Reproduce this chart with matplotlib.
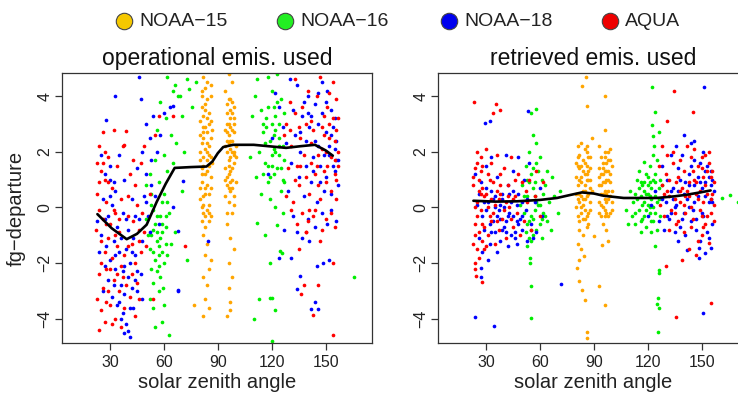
import numpy as np
import matplotlib
matplotlib.use('Agg')
import matplotlib.pyplot as plt

plt.rcParams['font.family'] = ['Liberation Sans', 'DejaVu Sans']

# ---- data: (solar zenith angle, fg-departure) ----
satellites = ['NOAA\u221215', 'NOAA\u221216', 'NOAA\u221218', 'AQUA']
point_colors = ['#FFA500', '#00EE00', '#0000FF', '#FF0000']
legend_colors = ['#F5C800', '#22EE22', '#0000EE', '#EE0000']

# operational emissivity panel
n15_oper = [(82,4.7),(84,4.5),(81,4.2),(86,4.0),(83,3.7),(85,3.4),(80,3.1),(82,2.9),(84,2.7),(86,2.5),
            (81,2.3),(83,2.1),(85,1.9),(80,1.7),(82,1.5),(84,1.3),(86,1.1),(81,0.9),(83,0.7),(85,0.5),
            (80,0.3),(82,0.1),(84,-0.1),(86,-0.3),(81,-0.5),(83,-0.7),(85,-0.2),(82,-1.0),(84,-1.3),(83,-1.7),
            (85,-2.2),(82,-2.5),(84,-2.8),(83,-3.3),(85,-3.6),(82,-3.9),(86,-1.9),(81,3.6),(85,2.2),(83,1.2),
            (87,1.6),(82,2.5),(84,0.8),(80,2.0),(86,3.1),(83,4.3),(81,1.4),(85,0.1),(84,3.9),(82,0.4),
            (83,-0.3),(84,1.7),(82,3.3),(86,0.7),(77,-3.5),
            (81,4.0),(83,3.5),(85,3.0),(82,2.7),(84,2.3),(86,1.8),(81,1.2),(83,0.5),(85,-0.5),(82,-0.2),
            (84,2.0),(80,2.6),(86,4.4),(83,2.9),(85,1.5),(81,0.0),(84,3.2),(82,1.8),(87,2.8),(80,0.7),
            (96,4.8),(98,4.5),(94,4.2),(97,3.9),(99,3.6),(95,3.4),(97,3.2),(99,3.0),(94,2.8),(96,2.6),
            (98,2.4),(100,2.2),(95,2.0),(97,1.8),(99,1.6),(94,1.4),(96,1.2),(98,1.0),(95,0.8),(97,0.6),
            (99,0.4),(96,0.2),(98,-0.2),(95,-0.6),(97,-1.1),(99,-1.5),(96,-2.0),(98,-2.5),(96,-2.9),(97,-3.4),
            (95,-3.9),(97,-3.7),(98,3.4),(96,3.0),(95,2.4),(99,2.7),(97,2.1),(98,1.4),(96,1.7),(94,1.0),
            (97,2.9),(99,1.9),(95,3.7),(100,0.9),(98,3.8),(96,0.7),
            (95,3.0),(97,2.4),(99,2.0),(94,2.2),(96,1.5),(98,2.8),(95,1.1),(97,3.5),(99,3.2),(96,3.9),
            (98,0.7),(94,0.4),(97,1.3),(100,1.8),(95,2.7),(96,2.3),(98,2.0),(99,0.1),(97,0.9),(95,-0.2)]
n16_oper = [(65,4.2),(69,4.0),(72.6,4.6),(78,4.5),(75.4,3.6),(69.8,3.3),(66,4.4),(68,4.0),(74,4.26),(62,4.7),
            (58,3.8),(61,3.2),(56,2.8),(64,2.6),(67,2.3),(71,2.0),(60,1.9),(55,1.7),(52,1.2),(57,0.9),
            (62,1.3),(53,0.5),(59,0.2),(63,-0.2),(50,-0.4),(54,-0.8),(56,-0.3),(58,-1.1),(61,-0.7),(64,-1.3),
            (52,-1.5),(55,-1.9),(57,-1.4),(60,-2.0),(62,-1.7),(53,-2.2),(58,-2.5),(51,-1.0),(56,-1.2),(59,-1.6),
            (54,-2.7),(54,-3.6),(58.7,-4.1),(63,-4.6),(59.5,-2.9),(52,-3.3),(57,-3.0),(55,-4.3),(60,-3.5),(53,0.1),
            (61,-0.3),(57,-2.1),(50,0.8),(66,-0.9),(65,1.6),(54,-0.1),(70,0.6),(73,-1.9),(56,-0.9),(59,-0.6),
            (53,-1.0),(55,-0.6),(57,-1.7),(59,-0.9),(61,-1.3),(56,-2.3),(58,-0.3),(54,-1.6),(60,0.5),(62,0.2),
            (110.5,4.0),(112,4.6),(118,4.7),(123,4.8),(120,4.2),(125,3.9),(114,3.5),(117,3.2),(121,3.6),(124,3.0),
            (127,3.4),(115,2.7),(119,2.4),(122,2.8),(126,2.2),(113,2.0),(116,1.6),(120,1.9),(123,1.4),(127,1.7),
            (111,1.1),(118,0.9),(121,1.2),(125,0.6),(119,0.3),(122,0.0),(126,-0.2),(114,0.5),(112,-0.56),(116,-1.0),
            (119,-2.0),(120,-3.25),(121.7,-3.7),(120,-4.8),(123,-0.63),(125.5,-1.65),(166,-2.5),(117,2.9),(124,2.5),(121,2.1),
            (126,1.0),(120,3.0),(118,1.5),(124,1.9),(122,3.3),(115,1.2),(127,0.9),(109,3.3),(108,1.8),(113,-3.3),
            (110,-4.0),(124.4,-1.58),(119,-3.26),
            (115,3.0),(118,3.6),(121,2.6),(124,2.2),(116,2.3),(120,1.5),(123,3.8),(119,1.1),(125,1.4),(122,2.0)]
n18_oper = [(46,4.7),(33,4.0),(47,3.9),(28,3.15),(25,1.9),(27,1.2),(30,1.5),(33,0.6),(35,1.9),(38,1.0),
            (42,0.3),(45,1.4),(48,2.0),(50,1.2),(52,2.5),(54,3.3),(50,3.0),(56,2.0),(53,0.8),(26,0.3),
            (29,-0.3),(31,0.1),(34,-0.7),(37,-0.2),(40,-0.8),(43,-1.1),(46,-0.4),(49,0.4),(51,-0.3),(23,-0.5),
            (25,-1.0),(28,-1.4),(30,-1.9),(32,-1.2),(35,-1.6),(37,-2.3),(39,-1.5),(41,-2.0),(44,-1.7),(47,-2.4),
            (24,-1.6),(27,-2.1),(29,-2.6),(33,-2.2),(36,-2.8),(38,-3.1),(40,-2.5),(42,-2.9),(45,-2.3),(48,-3.3),
            (31,-3.2),(34,-3.5),(37,-3.8),(39,-4.2),(41,-4.64),(40,-4.44),(43,-3.6),(36,-4.0),(38,-4.5),(26,-3.0),
            (44,-0.3),(32,0.9),(48,-1.2),(52,-0.9),(55,0.4),(58,2.6),(60,3.4),(57,-0.6),(68,-2.96),(63.3,3.6),
            (65.2,3.66),(70.7,0.94),(67.6,-0.86),(84.6,-1.22),(65.2,0.02),(68,-3.0),
            (27,-0.4),(30,0.4),(33,-1.7),(36,-1.1),(39,-0.4),(42,-1.6),(45,-3.0),(35,-3.4),(32,-2.8),(41,-3.6),
            (44,-2.6),(38,-2.1),(30,1.0),(50,0.2),(53,1.7),
            (130,4.6),(134,4.4),(140,4.0),(144,3.7),(148,4.5),(151,4.2),(153,3.5),(137,3.3),(141,2.9),(146,3.0),
            (150,2.7),(154,2.9),(156,2.4),(133,2.6),(136,2.0),(139,2.4),(143,1.8),(147,1.5),(152,1.9),(155,1.3),
            (157,0.8),(131,1.6),(128,2.3),(126,2.9),(124,3.6),(122,4.1),(135,1.1),(138,0.4),(142,0.9),(145,0.2),
            (149,0.6),(153,-0.1),(156,-0.5),(132,-0.3),(129,0.6),(127,-0.8),(134,-0.9),(140,-0.4),(144,-0.7),(148,-0.2),
            (151,-0.6),(137,-1.1),(141,-1.2),(131,-1.8),(148.5,-2.0),(152,-1.88),(145,-2.1),(135.5,-2.46),(134,-2.93),(144,-3.38),
            (142,-3.64),(145.7,-3.64),(124,-1.8),(154,1.5),(150,1.1),(146,2.2),(142,3.3),(138,3.8),(155,2.1),(153,0.5),
            (157,1.7),(120,2.5),(118,1.2),
            (132,3.5),(136,2.7),(140,3.4),(144,2.4),(148,3.4),(152,2.2),(155,3.2),(147,0.9),(143,1.3),(139,1.5),
            (150,3.8),(146,4.1),(153,2.6),(149,1.9),(156,1.7)]
aqua_oper = [(24,2.2),(26,2.7),(32,2.8),(39,2.75),(37,2.2),(38,2.25),(23,1.6),(25,1.3),(27,1.0),(29,1.8),
             (31,0.7),(34,1.5),(36,0.3),(41,1.2),(44,0.8),(47,1.6),(49,2.2),(45,0.1),(23,0.5),(24,-0.1),
             (26,-0.4),(28,0.2),(30,-0.6),(33,-0.2),(35,-0.9),(40,-0.3),(43,-0.5),(46,-0.8),(48,-0.2),(22,-0.8),
             (25,-1.2),(27,-1.6),(29,-1.1),(31,-1.8),(34,-1.4),(36,-2.1),(38,-1.7),(42,-1.3),(44,-2.0),(47,-1.6),
             (24,-2.4),(26,-2.9),(28,-2.2),(32,-2.6),(35,-3.0),(37,-2.5),(39,-2.8),(41,-3.2),(45,-2.7),(23,-3.3),
             (25,-3.7),(27,-4.1),(24,-4.4),(30,-3.5),(33,-4.0),(36,-4.3),(38,-3.6),(44,-3.9),(46,-3.3),(49,-0.9),
             (50,-1.4),(29,0.9),(32,-0.1),(43,1.7),(40,0.4),(52,0.5),(55,2.6),(57,3.3),(72,-1.4),(54,-3.3),
             (65,3.3),
             (24,0.9),(26,1.6),(28,-0.6),(30,-2.2),(33,-1.0),(35,-0.4),(28,-3.4),(31,-4.2),(34,-2.4),(25,-2.0),
             (29,-3.0),(27,2.0),(42,-2.4),(46,-1.2),(40,-1.4),
             (128,3.0),(131,2.2),(134,1.5),(137,3.6),(140,4.2),(143,2.8),(146,1.9),(149,3.3),(152,2.5),(155,1.7),
             (156,3.9),(154,4.5),(150,0.9),(147,0.3),(144,1.2),(141,0.5),(138,1.9),(135,0.8),(132,0.2),(129,1.4),
             (127,2.6),(130,3.8),(133,4.6),(136,2.5),(139,1.1),(142,3.1),(145,4.0),(148,2.1),(151,1.5),(153,0.6),
             (155,1.2),(156,2.8),(157,2.0),(154,3.2),(152,4.1),(149,1.3),(146,0.8),(143,-0.3),(140,-0.5),(137,-0.2),
             (134,-0.6),(131,-0.1),(128,0.4),(150,-0.4),(153,-0.2),(156,0.3),(155,-0.7),(148,-0.8),(144,-0.1),(139,-0.9),
             (146,-2.8),(138,-2.8),(136.5,-3.1),(143,-3.86),(154,-4.58),(154,-1.98),(139,-0.9),(149,2.6),(151,3.6),(147,4.7),
             (142,1.6),(135,2.9),(133,3.4),(156,1.0),(157,1.5),
             (130,2.8),(136,1.5),(142,2.3),(148,2.9),(152,3.0),(155,2.4),(150,2.0),(145,1.5),(139,3.0),(133,1.0),
             (157,3.2),(153,1.8),(141,-0.1),(135,-1.5),(147,-1.2)]

# retrieved emissivity panel
n15_retr = [(85.6,4.69),(83.4,4.35),(86.2,3.66),(89,2.5),(80.5,-2.18),(82,-2.66),(83.4,-2.96),(84.9,-3.32),(86.2,-4.46),(86.2,-4.7),
            (84.3,-1.76),(81,2.2),(83,2.3),(86,2.0),(88,1.8),(80,1.6),(82,1.4),(85,1.2),(87,1.0),(81,0.8),
            (84,0.6),(86,0.4),(88,0.2),(80,0.0),(83,-0.2),(85,-0.4),(87,-0.6),(82,-0.8),(84,1.7),(86,1.5),
            (88,0.7),(81,0.3),(83,0.9),(85,-0.1),(87,1.3),(82,-0.5),(84,0.1),(86,-0.7),(80,1.1),(82,1.9),
            (85,0.8),(87,-0.2),(83,1.5),(84,-1.0),(81,-1.3),(86,1.0),(88,1.4),(85,2.1),(82,0.5),(84,-0.4),
            (89,0.6),(81,1.8),(83,-1.5),(82,-1.9),
            (81,1.5),(83,1.1),(85,0.3),(87,0.5),(82,0.2),(84,1.3),(86,-0.3),(88,1.0),(80,0.5),(83,0.0),
            (85,1.6),(87,1.8),(81,-0.3),(84,0.3),(86,2.2),(82,1.0),(88,-0.1),(83,0.4),(85,0.6),(86,1.2),
            (96.4,4.0),(96.4,2.8),(90,-1.04),(94.6,-1.34),(92.7,-2.84),(96.4,-3.5),(93,2.2),(96,2.0),(99,2.1),(94,1.8),
            (97,1.6),(100,1.5),(93,1.4),(95,1.2),(98,1.0),(94,0.8),(96,0.6),(99,0.4),(93,0.2),(95,0.0),
            (97,-0.2),(100,-0.1),(94,-0.3),(98,0.3),(96,1.3),(99,0.9),(97,1.0),(95,0.5),(93,0.8),(98,1.7),
            (96,-0.1),(94,1.2),(100,0.6),(97,0.2),(99,1.2),(95,1.6),(98,-0.3),(96,0.9),(93,-0.2),(95,-0.6),
            (97,-0.8),(98,-1.2),
            (94,0.5),(96,0.3),(98,0.6),(95,1.4),(97,1.3),(99,1.7),(93,1.1),(96,1.8),(98,1.3),(94,0.1),
            (97,0.5),(100,0.2),(95,0.9),(99,-0.2),(96,-0.3),(98,2.0)]
n16_retr = [(55,3.4),(57.9,3.55),(55,-2.84),(55,-3.97),(54.4,-1.8),(54.5,-2.0),(56,2.6),(58,2.3),(54,2.0),(52,1.5),
            (55,1.2),(58,1.6),(61,1.0),(64,1.3),(50,0.8),(53,0.4),(56,0.7),(59,0.1),(62,0.5),(65,0.2),
            (51,-0.2),(54,-0.5),(57,-0.1),(60,-0.6),(63,-0.3),(66,-0.8),(52,-0.9),(55,-1.2),(58,-0.8),(61,-1.1),
            (53,-1.4),(56,-1.0),(68,0.4),(70,-0.2),(67,1.1),(49,0.1),(57,0.9),(60,1.8),(62,-0.2),(53,1.0),
            (56,-0.4),(59,1.3),(64,-0.5),(71,0.6),(55,-0.8),(54,-1.1),
            (51,0.4),(54,0.9),(57,0.4),(60,0.1),(63,0.8),(55,-0.3),(58,0.2),(61,-0.4),(53,-0.6),(56,1.4),
            (122.5,4.33),(124.3,3.42),(122.5,2.97),(126,2.7),(123,2.58),(123.4,2.2),(118.2,1.65),(126.5,-2.24),(126,-2.36),(125.6,-3.24),
            (125.2,-3.48),(126.5,-3.62),(125.6,-4.46),(166,0.46),(170,0.18),(161.5,0.34),(110,0.6),(112,0.2),(114,1.0),(116,0.4),
            (118,0.9),(120,0.1),(122,0.7),(124,1.2),(126,0.3),(128,0.8),(111,-0.3),(113,-0.6),(115,-0.1),(117,-0.4),
            (119,-0.7),(121,-0.2),(123,-0.5),(125,-0.8),(127,-0.3),(109,-0.6),(115,1.3),(119,1.2),(121,1.5),(117,0.8),
            (123,0.0),(120,0.5),(122,-0.9),(118,0.2),(124,0.4),(116,-0.9),(113,0.5),(119,-0.1),(121,0.9),(125,1.7),
            (124,-1.4),(108,-0.1),(127,1.0),(123,1.9),
            (114,0.3),(116,0.9),(118,-0.3),(120,0.8),(122,0.3),(124,-0.2),(126,0.7),(119,0.5),(121,0.0),(117,0.1),
            (123,1.0),(125,0.2),(115,0.7),(113,-0.2),(120,1.1),(122,-0.5),(118,0.6),(124,0.9),(116,-0.5),(121,0.4)]
n18_retr = [(32,3.1),(29.3,3.04),(53.4,3.45),(27.4,-2.18),(24,-3.92),(34.5,-4.25),(71.7,-2.76),(24,1.2),(27,0.9),(30,1.5),
            (33,0.6),(36,1.1),(39,0.3),(42,0.8),(45,1.3),(48,0.5),(51,1.0),(54,1.6),(57,0.2),(60,0.7),
            (25,0.1),(28,-0.3),(31,0.2),(34,-0.5),(37,-0.1),(40,-0.7),(43,-0.2),(46,-0.9),(49,-0.4),(52,-0.1),
            (55,-0.6),(58,-0.9),(61,-0.3),(26,-1.1),(29,-0.8),(32,-1.3),(35,-0.9),(38,-1.2),(41,-0.5),(44,-1.0),
            (47,-1.3),(50,-0.8),(53,-1.2),(56,-1.1),(28,-1.6),(31,-1.9),(27,-2.5),(36,-1.6),(42,-1.4),(48,1.8),
            (45,-0.3),(39,0.5),(33,1.8),(41,1.9),(35,0.0),(30,-0.1),(47,0.1),(50,0.2),(38,-0.4),(43,0.5),
            (26,0.5),(29,0.2),(32,-0.6),(35,0.4),(38,0.1),(41,-0.9),(44,0.2),(47,-0.5),(50,-0.3),(53,0.3),
            (36,-0.3),(40,0.0),(33,-0.9),(45,0.6),(30,0.7),(42,-0.3),(48,-0.6),(39,-0.8),(34,0.3),(46,-1.1),
            (151.3,4.33),(140,2.6),(145.7,2.37),(154,-1.1),(142,-1.52),(148.5,-1.46),(155,-1.46),(152,-1.64),(148.5,-1.8),(150.9,-3.8),
            (136,2.2),(133,1.9),(128,1.5),(131,1.0),(134,0.7),(137,1.4),(140,0.5),(143,1.2),(146,0.8),(149,1.6),
            (152,0.9),(155,1.3),(157,0.6),(130,0.2),(133,-0.2),(136,0.1),(139,-0.4),(142,0.3),(145,-0.1),(148,0.4),
            (151,-0.3),(154,0.2),(156,-0.6),(126,-0.5),(129,-0.8),(132,-0.4),(135,-0.9),(138,-0.7),(141,-1.0),(144,-0.5),
            (147,-0.8),(150,-0.2),(153,-0.9),(122,0.1),(120,-0.3),(124,0.6),(139,1.9),(146,1.7),(151,2.0),(144,2.3),
            (156,1.0),(153,1.5),(148,1.1),(143,0.0),(137,-1.2),(149,-1.2),(155,0.3),
            (128,0.3),(131,-0.3),(134,0.3),(137,0.6),(140,-0.2),(143,0.8),(146,0.2),(149,0.9),(152,0.4),(155,0.8),
            (138,1.0),(144,1.5),(150,0.7),(154,1.1),(147,-0.4),(141,0.9),(135,0.0),(152,1.3),(156,0.2),(133,0.6)]
aqua_retr = [(23.3,3.8),(35.7,3.7),(34,3.4),(37.6,3.5),(24.6,-2.48),(27.9,-2.68),(23.7,-2.0),(25,2.0),(27,1.8),(30,2.1),
             (33,1.6),(36,1.9),(40,1.4),(44,1.8),(48,1.2),(24,1.4),(26,1.0),(28,0.7),(31,1.2),(34,0.9),
             (38,0.5),(42,0.8),(46,0.4),(50,0.9),(53,0.2),(25,0.2),(27,-0.1),(29,0.4),(32,-0.3),(35,0.1),
             (39,-0.4),(43,0.0),(47,-0.2),(51,-0.5),(24,-0.6),(26,-0.9),(29,-0.7),(31,-1.0),(33,-0.5),(37,-0.8),
             (41,-1.1),(45,-0.7),(49,-1.0),(23,-1.3),(25,-1.5),(28,-1.2),(26,-1.8),(24,-2.2),(30,-1.4),(35,-1.3),
             (27,0.5),(36,0.6),(41,0.2),(44,-0.4),(52,0.6),(55,-0.8),(57,0.4),(60,-0.3),(62,0.9),(58,1.3),
             (54,1.0),(23,0.8),(25,-0.3),(38,1.2),(46,1.0),
             (24,0.0),(26,0.6),(28,-0.6),(30,0.5),(32,1.0),(34,-0.2),(36,-0.5),(38,0.8),(40,-0.1),(42,0.4),
             (25,1.6),(27,1.3),(29,-1.5),(31,0.0),(33,0.3),(24,-1.0),(37,0.3),(45,0.3),(23,1.1),(28,1.5),
             (134.5,4.2),(145.3,3.42),(130.8,3.1),(128,2.2),(150.2,-1.0),(154,-1.28),(130.4,-2.1),(155,-3.44),(136,-3.94),(126,1.5),
             (128,0.8),(130,1.2),(132,0.4),(134,1.6),(136,0.9),(138,0.2),(140,1.3),(142,0.6),(144,1.8),(146,1.0),
             (148,0.3),(150,1.4),(152,0.8),(154,1.6),(156,0.5),(127,0.1),(129,-0.3),(131,0.6),(133,-0.1),(135,0.3),
             (137,-0.5),(139,0.7),(141,-0.2),(143,0.4),(145,-0.4),(147,0.9),(149,-0.1),(151,0.2),(153,-0.3),(155,1.1),
             (157,0.1),(132,-0.8),(136,-0.6),(140,-0.9),(144,-0.7),(148,-1.2),(152,-0.6),(134,2.0),(138,1.7),(142,2.2),
             (146,2.1),(150,1.8),(154,2.0),(131,1.9),(155,0.3),(153,1.3),(151,-0.7),(147,-1.7),(143,-1.5),(139,-1.9),
             (157,-0.5),
             (129,0.5),(132,1.0),(135,-0.2),(138,0.6),(141,0.4),(144,0.0),(147,0.5),(150,-0.3),(153,0.5),(156,1.3),
             (145,1.3),(149,0.6),(152,1.9),(140,0.1),(137,1.1),(155,-0.2),(151,1.1),(143,0.9),(157,0.9),(148,1.5)]

# smoothed mean curves
oper_curve_x = [23, 31, 39.3, 45, 50.4, 56, 61, 66, 75, 83.7, 87, 90, 93, 98.5, 110, 128, 136, 144, 150, 154]
oper_curve_y = [-0.24, -0.75, -1.14, -0.95, -0.62, 0.2, 0.85, 1.42, 1.45, 1.47, 1.65, 1.95, 2.17, 2.25, 2.25, 2.14, 2.2, 2.25, 2.05, 1.86]
retr_curve_x = [23, 35, 47, 60, 69.5, 77, 83.4, 90, 95.5, 106.6, 125, 135, 142, 150, 155]
retr_curve_y = [0.24, 0.21, 0.22, 0.27, 0.34, 0.45, 0.54, 0.5, 0.42, 0.34, 0.34, 0.4, 0.46, 0.55, 0.61]

panels = [
    ('operational emis. used', [n15_oper, n16_oper, n18_oper, aqua_oper], oper_curve_x, oper_curve_y),
    ('retrieved emis. used', [n15_retr, n16_retr, n18_retr, aqua_retr], retr_curve_x, retr_curve_y),
]

W, H = 738, 399
fig = plt.figure(figsize=(W / 100, H / 100), dpi=100)


def px_axes(x0, y0, x1, y1):
    # axes placed in pixel coordinates (origin top-left)
    return fig.add_axes([x0 / W, 1 - y1 / H, (x1 - x0) / W, (y1 - y0) / H])


axes = [px_axes(62, 73, 372, 343), px_axes(438, 73, 748, 343)]

for ax, (title, groups, cx, cy) in zip(axes, panels):
    for pts, col in zip(groups, point_colors):
        arr = np.array(pts)
        ax.scatter(arr[:, 0], arr[:, 1], s=7, color=col, linewidths=0)
    ax.plot(cx, cy, color='black', lw=1.9, solid_capstyle='round', solid_joinstyle='round')
    ax.set_xlim(3.3, 175.8)
    ax.set_ylim(-4.87, 4.83)
    ax.set_xticks([30, 60, 90, 120, 150])
    ax.set_yticks([-4, -2, 0, 2, 4])
    ax.tick_params(direction='out', length=5, width=0.9, color='#333333',
                   labelsize=11.5, labelcolor='#222222')
    ax.tick_params(axis='x', pad=3.5)
    ax.tick_params(axis='y', labelrotation=90, pad=2)
    for lab in ax.get_yticklabels():
        lab.set_va('center')
    for sp in ax.spines.values():
        sp.set_linewidth(0.9)
        sp.set_color('#333333')
    ax.set_title(title, fontsize=16.5, pad=6, color='#111111')
    ax.set_xlabel('solar zenith angle', fontsize=14.5, labelpad=2, color='#222222')

axes[0].set_ylabel('fg\u2212departure', fontsize=14.5, labelpad=8, color='#222222')

# legend row across the top
lax = fig.add_axes([0, 0, 1, 1], zorder=-1)
lax.set_xlim(0, W)
lax.set_ylim(H, 0)
lax.axis('off')
legend_x = [124, 285, 449, 610]
for lx, name, col in zip(legend_x, satellites, legend_colors):
    lax.scatter([lx], [21], s=140, color=col, edgecolors='#444444', linewidths=0.8)
    lax.text(lx + 15, 21, name, fontsize=14, va='center', ha='left', color='#222222')

fig.savefig('out.png', dpi=100)
